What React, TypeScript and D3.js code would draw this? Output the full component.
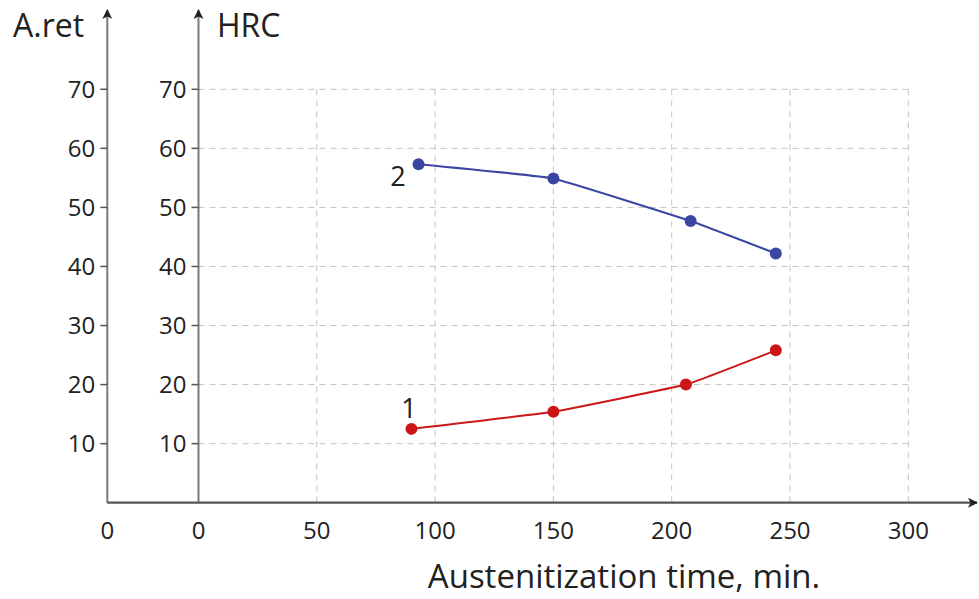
import React, { useEffect, useRef } from 'react';
import * as d3 from 'd3';

const xTicks = [0, 50, 100, 150, 200, 250, 300];
const yTicks = [10, 20, 30, 40, 50, 60, 70];

const series2Time = [93, 150, 208, 244];
const series2Hrc = [57.3, 54.9, 47.7, 42.2];
const series1Time = [90, 150, 206, 244];
const series1Aret = [12.5, 15.4, 20.0, 25.8];

const W = 979;
const H = 599;

export default function App() {
  const ref = useRef<SVGSVGElement>(null);

  useEffect(() => {
    if (!ref.current) return;
    const svg = d3.select(ref.current);
    svg.selectAll('*').remove();

    const x = d3.scaleLinear().domain([0, 300]).range([198.5, 908.3]);
    const y = d3.scaleLinear().domain([0, 70]).range([502.7, 89.3]);
    const leftX = 107.3;
    const font = "'Open Sans', sans-serif";
    const axisCol = '#7a7a7a';

    const defs = svg.append('defs');
    defs.append('marker')
      .attr('id', 'arr')
      .attr('viewBox', '0 0 10 10')
      .attr('refX', 9).attr('refY', 5)
      .attr('markerWidth', 10).attr('markerHeight', 10)
      .attr('markerUnits', 'userSpaceOnUse')
      .attr('orient', 'auto')
      .append('path').attr('d', 'M0,0 L10,5 L0,10 L2.5,5 Z').attr('fill', '#222');

    // grid
    const grid = svg.append('g')
      .attr('stroke', '#c4c4c4').attr('stroke-width', 1).attr('stroke-dasharray', '6,5');
    xTicks.filter(t => t > 0).forEach(t => {
      grid.append('line')
        .attr('x1', x(t)).attr('x2', x(t))
        .attr('y1', y(70)).attr('y2', y(0));
    });
    yTicks.forEach(t => {
      grid.append('line')
        .attr('x1', x(0)).attr('x2', x(300))
        .attr('y1', y(t)).attr('y2', y(t));
    });

    // axes
    [leftX, x(0)].forEach(ax => {
      svg.append('line')
        .attr('x1', ax).attr('x2', ax)
        .attr('y1', y(0)).attr('y2', 10)
        .attr('stroke', axisCol).attr('stroke-width', 2)
        .attr('marker-end', 'url(#arr)');
      yTicks.forEach(t => {
        svg.append('line')
          .attr('x1', ax - 7).attr('x2', ax)
          .attr('y1', y(t)).attr('y2', y(t))
          .attr('stroke', '#555').attr('stroke-width', 1.5);
        svg.append('text')
          .attr('x', ax - 12).attr('y', y(t) + 8.5)
          .attr('text-anchor', 'end')
          .attr('font-family', font).attr('font-size', 24)
          .attr('fill', '#222')
          .text(t);
      });
    });

    svg.append('line')
      .attr('x1', leftX).attr('x2', 977)
      .attr('y1', y(0)).attr('y2', y(0))
      .attr('stroke', '#555').attr('stroke-width', 2.2)
      .attr('marker-end', 'url(#arr)');

    // x tick labels
    svg.append('text')
      .attr('x', leftX).attr('y', 539)
      .attr('text-anchor', 'middle')
      .attr('font-family', font).attr('font-size', 24).attr('fill', '#222')
      .text('0');
    xTicks.forEach(t => {
      svg.append('text')
        .attr('x', x(t)).attr('y', 539)
        .attr('text-anchor', 'middle')
        .attr('font-family', font).attr('font-size', 24).attr('fill', '#222')
        .text(t);
    });

    // axis titles
    svg.append('text')
      .attr('x', 13).attr('y', 37)
      .attr('font-family', font).attr('font-size', 32).attr('fill', '#222')
      .text('A.ret');
    svg.append('text')
      .attr('x', 217).attr('y', 37)
      .attr('font-family', font).attr('font-size', 32).attr('fill', '#222')
      .text('HRC');
    svg.append('text')
      .attr('x', 624).attr('y', 588)
      .attr('text-anchor', 'middle')
      .attr('font-family', font).attr('font-size', 33).attr('fill', '#222')
      .text('Austenitization time, min.');

    const line = d3.line<[number, number]>()
      .x(d => x(d[0])).y(d => y(d[1]))
      .curve(d3.curveCardinal.tension(0.75));

    const drawSeries = (ts: number[], vs: number[], color: string) => {
      const pts: [number, number][] = ts.map((t, i) => [t, vs[i]]);
      svg.append('path')
        .attr('d', line(pts) as string)
        .attr('fill', 'none').attr('stroke', color).attr('stroke-width', 2);
      svg.append('g').selectAll('circle')
        .data(pts).enter().append('circle')
        .attr('cx', d => x(d[0])).attr('cy', d => y(d[1]))
        .attr('r', 6).attr('fill', color);
    };

    drawSeries(series2Time, series2Hrc, '#3a46a2');
    drawSeries(series1Time, series1Aret, '#cc1616');

    svg.append('text')
      .attr('x', 398).attr('y', 186)
      .attr('text-anchor', 'middle')
      .attr('font-family', font).attr('font-size', 27).attr('fill', '#222')
      .text('2');
    svg.append('text')
      .attr('x', 409).attr('y', 418)
      .attr('text-anchor', 'middle')
      .attr('font-family', font).attr('font-size', 27).attr('fill', '#222')
      .text('1');
  }, []);

  return (
    <div style={{ position: 'absolute', left: 0, top: 0, width: W, height: H, background: '#fff' }}>
      <svg ref={ref} width={W} height={H} viewBox={`0 0 ${W} ${H}`} style={{ display: 'block' }} />
    </div>
  );
}
